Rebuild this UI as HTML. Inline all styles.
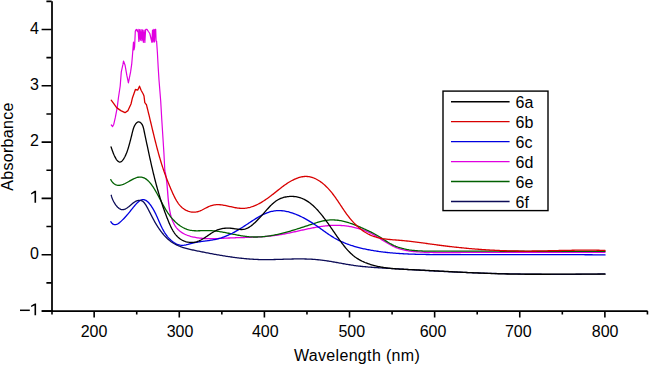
<!DOCTYPE html>
<html><head><meta charset="utf-8"><style>
html,body{margin:0;padding:0;background:#fff;width:650px;height:366px;overflow:hidden;}
svg{display:block;font-family:"Liberation Sans",sans-serif;}
</style></head><body>
<svg width="650" height="366" viewBox="0 0 650 366">
<rect width="650" height="366" fill="#fff"/>
<path d="M164.68 170.11 L164.91 171.07 L165.13 172.04 L165.34 173.01 L165.54 173.97 L165.72 174.94 L165.89 175.91 L166.05 176.88 L166.20 177.85 L166.34 178.82 L166.48 179.79 L166.60 180.77 L166.72 181.74 L166.83 182.72 L166.93 183.70 L167.03 184.68 L167.12 185.66 L167.21 186.65 L167.29 187.63 L167.37 188.62 L167.45 189.61 L167.53 190.60 L167.61 191.59 L167.69 192.58 L167.76 193.58 L167.84 194.58 L167.92 195.58 L168.01 196.58 L168.09 197.59 L168.18 198.60 L168.27 199.61 L168.37 200.62 L168.48 201.63 L168.59 202.65 L168.71 203.67 L168.83 204.70 L168.96 205.72 L169.11 206.75 L169.26 207.78 L169.42 208.81 L169.60 209.84 L169.79 210.86 L169.99 211.88 L170.20 212.90 L170.43 213.91 L170.67 214.91 L170.94 215.90 L171.21 216.88 L171.51 217.85 L171.83 218.80 L172.16 219.74 L172.52 220.67 L172.89 221.58 L173.29 222.47 L173.71 223.34 L174.16 224.19 L174.63 225.02 L175.13 225.82 L175.65 226.61 L176.20 227.36 L176.77 228.09 L177.38 228.79 L178.01 229.46 L178.68 230.10 L179.37 230.72 L180.09 231.30 L180.84 231.85 L181.61 232.38 L182.40 232.88 L183.22 233.35 L184.06 233.80 L184.92 234.22 L185.79 234.62 L186.69 235.00 L187.60 235.35 L188.53 235.68 L189.47 235.99 L190.42 236.28 L191.38 236.55 L192.36 236.79 L193.34 237.02 L194.33 237.23 L195.33 237.43 L196.33 237.61 L197.34 237.77 L198.35 237.91 L199.36 238.04 L200.37 238.16 L201.39 238.26 L202.40 238.35 L203.41 238.43 L204.42 238.49 L205.42 238.55 L206.43 238.59 L207.44 238.63 L208.45 238.65 L209.45 238.67 L210.46 238.67 L211.46 238.67 L212.47 238.67 L213.47 238.65 L214.48 238.63 L215.48 238.60 L216.48 238.57 L217.48 238.54 L218.49 238.50 L219.49 238.46 L220.49 238.41 L221.49 238.36 L222.49 238.32 L223.49 238.27 L224.49 238.22 L225.49 238.17 L226.49 238.12 L227.49 238.07 L228.49 238.02 L229.49 237.98 L230.49 237.94 L231.49 237.90 L232.48 237.86 L233.48 237.82 L234.48 237.79 L235.48 237.75 L236.48 237.72 L237.47 237.69 L238.47 237.66 L239.47 237.63 L240.47 237.60 L241.46 237.57 L242.46 237.54 L243.45 237.51 L244.45 237.49 L245.45 237.46 L246.44 237.42 L247.44 237.39 L248.43 237.36 L249.43 237.33 L250.42 237.29 L251.42 237.26 L252.41 237.22 L253.40 237.18 L254.40 237.13 L255.39 237.09 L256.38 237.04 L257.38 236.99 L258.37 236.94 L259.36 236.88 L260.35 236.83 L261.34 236.76 L262.33 236.70 L263.33 236.63 L264.32 236.55 L265.31 236.48 L266.30 236.39 L267.29 236.31 L268.28 236.22 L269.27 236.12 L270.25 236.02 L271.24 235.91 L272.23 235.80 L273.22 235.68 L274.21 235.56 L275.19 235.43 L276.18 235.30 L277.17 235.16 L278.15 235.01 L279.14 234.85 L280.12 234.69 L281.11 234.53 L282.09 234.35 L283.08 234.18 L284.06 233.99 L285.05 233.81 L286.03 233.62 L287.01 233.42 L288.00 233.22 L288.98 233.02 L289.96 232.81 L290.95 232.60 L291.93 232.39 L292.91 232.18 L293.89 231.97 L294.87 231.75 L295.86 231.53 L296.84 231.31 L297.82 231.09 L298.80 230.87 L299.78 230.65 L300.76 230.43 L301.75 230.21 L302.73 230.00 L303.71 229.78 L304.69 229.56 L305.67 229.35 L306.65 229.14 L307.63 228.93 L308.62 228.72 L309.60 228.52 L310.58 228.32 L311.56 228.13 L312.54 227.93 L313.52 227.75 L314.51 227.56 L315.49 227.38 L316.47 227.21 L317.45 227.04 L318.44 226.88 L319.42 226.73 L320.40 226.58 L321.39 226.44 L322.37 226.30 L323.35 226.17 L324.34 226.05 L325.32 225.94 L326.31 225.84 L327.29 225.74 L328.28 225.66 L329.26 225.58 L330.25 225.51 L331.23 225.45 L332.22 225.41 L333.21 225.37 L334.19 225.34 L335.18 225.33 L336.17 225.33 L337.16 225.33 L338.15 225.35 L339.14 225.39 L340.12 225.43 L341.11 225.48 L342.10 225.55 L343.09 225.63 L344.07 225.72 L345.06 225.82 L346.04 225.94 L347.03 226.07 L348.01 226.20 L348.99 226.36 L349.97 226.52 L350.94 226.69 L351.92 226.88 L352.89 227.08 L353.86 227.29 L354.83 227.52 L355.79 227.76 L356.76 228.01 L357.71 228.27 L358.67 228.54 L359.62 228.83 L360.57 229.13 L361.52 229.44 L362.46 229.77 L363.40 230.11 L364.33 230.46 L365.26 230.82 L366.18 231.20 L367.10 231.59 L368.02 231.99 L368.93 232.41 L369.83 232.84 L370.73 233.28 L371.63 233.73 L372.51 234.20 L373.40 234.68 L374.28 235.17 L375.15 235.67 L376.02 236.18 L376.89 236.70 L377.76 237.22 L378.62 237.75 L379.48 238.28 L380.34 238.81 L381.20 239.34 L382.05 239.88 L382.91 240.41 L383.77 240.94 L384.63 241.47 L385.49 242.00 L386.35 242.52 L387.21 243.03 L388.07 243.53 L388.94 244.03 L389.81 244.52 L390.68 244.99 L391.56 245.45 L392.44 245.90 L393.33 246.34 L394.22 246.75 L395.12 247.16 L396.03 247.54 L396.94 247.90 L397.86 248.25 L398.78 248.57 L399.72 248.88 L400.65 249.16 L401.60 249.43 L402.55 249.68 L403.50 249.92 L404.47 250.13 L405.43 250.34 L406.40 250.52 L407.38 250.70 L408.35 250.86 L409.34 251.01 L410.32 251.15 L411.31 251.27 L412.30 251.39 L413.29 251.49 L414.29 251.59 L415.28 251.68 L416.28 251.76 L417.28 251.84 L418.28 251.91 L419.28 251.97 L420.28 252.03 L421.28 252.09 L422.28 252.14 L423.28 252.19 L424.28 252.23 L425.28 252.27 L426.28 252.31 L427.28 252.35 L428.28 252.38 L429.28 252.41 L430.28 252.43 L431.28 252.45 L432.28 252.47 L433.28 252.49 L434.28 252.51 L435.28 252.52 L436.28 252.53 L437.28 252.54 L438.28 252.55 L439.28 252.55 L440.28 252.55 L441.27 252.56 L442.27 252.56 L443.27 252.56 L444.27 252.56 L445.27 252.55 L446.27 252.55 L447.27 252.55 L448.27 252.54 L449.27 252.54 L450.26 252.53 L451.26 252.52 L452.26 252.52 L453.26 252.51 L454.26 252.51 L455.26 252.50 L456.26 252.50 L457.26 252.49 L458.25 252.49 L459.25 252.48 L460.25 252.48 L461.25 252.47 L462.25 252.47 L463.25 252.47 L464.25 252.46 L465.24 252.46 L466.24 252.45 L467.24 252.45 L468.24 252.45 L469.24 252.44 L470.24 252.44 L471.24 252.44 L472.23 252.44 L473.23 252.43 L474.23 252.43 L475.23 252.43 L476.23 252.43 L477.23 252.42 L478.22 252.42 L479.22 252.42 L480.22 252.42 L481.22 252.42 L482.22 252.41 L483.22 252.41 L484.21 252.41 L485.21 252.41 L486.21 252.41 L487.21 252.41 L488.21 252.41 L489.21 252.41 L490.20 252.41 L491.20 252.40 L492.20 252.40 L493.20 252.40 L494.20 252.40 L495.19 252.40 L496.19 252.40 L497.19 252.40 L498.19 252.40 L499.19 252.40 L500.19 252.40 L501.18 252.40 L502.18 252.40 L503.18 252.40 L504.18 252.40 L505.18 252.40 L506.17 252.40 L507.17 252.40 L508.17 252.40 L509.17 252.40 L510.17 252.40 L511.16 252.40 L512.16 252.41 L513.16 252.41 L514.16 252.41 L515.16 252.41 L516.16 252.41 L517.15 252.41 L518.15 252.41 L519.15 252.41 L520.15 252.41 L521.15 252.41 L522.14 252.41 L523.14 252.41 L524.14 252.41 L525.14 252.41 L526.14 252.41 L527.13 252.41 L528.13 252.42 L529.13 252.42 L530.13 252.42 L531.13 252.42 L532.12 252.42 L533.12 252.42 L534.12 252.42 L535.12 252.42 L536.12 252.42 L537.11 252.42 L538.11 252.42 L539.11 252.42 L540.11 252.42 L541.11 252.42 L542.10 252.42 L543.10 252.42 L544.10 252.42 L545.10 252.42 L546.10 252.42 L547.10 252.42 L548.09 252.42 L549.09 252.42 L550.09 252.42 L551.09 252.42 L552.09 252.42 L553.08 252.42 L554.08 252.42 L555.08 252.42 L556.08 252.42 L557.08 252.42 L558.08 252.42 L559.07 252.42 L560.07 252.42 L561.07 252.41 L562.07 252.41 L563.07 252.41 L564.06 252.41 L565.06 252.41 L566.06 252.41 L567.06 252.41 L568.06 252.40 L569.06 252.40 L570.05 252.40 L571.05 252.40 L572.05 252.40 L573.05 252.39 L574.05 252.39 L575.05 252.39 L576.05 252.39 L577.04 252.38 L578.04 252.38 L579.04 252.38 L580.04 252.37 L581.04 252.37 L582.04 252.37 L583.03 252.36 L584.03 252.36 L585.03 252.35 L586.03 252.35 L587.03 252.35 L588.03 252.34 L589.03 252.34 L590.02 252.33 L591.02 252.33 L592.02 252.32 L593.02 252.32 L594.02 252.31 L595.02 252.30 L596.02 252.30 L597.02 252.29 L598.01 252.29 L599.01 252.28 L600.01 252.27 L601.01 252.27 L602.01 252.26 L603.01 252.25 L604.01 252.24 L605.01 252.24" fill="none" stroke="#e000e0" stroke-width="1.3" stroke-linejoin="round" stroke-linecap="round"/>
<path d="M111.30 125.00 L112.60 126.60 L113.80 124.20 L115.40 117.20 L117.20 107.60 L118.40 98.00 L120.20 86.00 L121.30 71.90 L123.00 64.20 L123.50 61.00 L125.10 65.30 L126.80 75.20 L128.40 82.90 L130.60 71.90 L131.70 64.20 L132.40 56.00 L133.50 42.00 L134.00 50.00 L134.60 47.00 L135.30 31.00 L136.30 29.40 L137.40 31.50 L138.10 29.40 L138.85 41.37 L139.60 29.63 L140.35 40.22 L141.10 29.51 L141.85 40.62 L142.60 29.95 L143.35 42.30 L144.10 30.16 L144.85 42.37 L145.60 30.05 L145.80 29.40 L147.00 29.40 L148.40 31.50 L149.80 33.50 L151.00 38.50 L151.90 42.40 L152.50 30.00 L153.10 42.00 L153.80 29.40 L154.50 42.00 L155.10 29.40 L155.70 29.40 L156.10 41.00 L156.60 41.30 L157.40 52.80 L158.20 67.50 L159.00 80.00 L160.70 101.00 L161.80 120.00 L163.90 152.80 L164.80 170.00" fill="none" stroke="#e000e0" stroke-width="1.2" stroke-linejoin="round" stroke-linecap="round"/>
<path d="M110.78 179.62 L111.49 180.81 L112.22 181.85 L112.97 182.73 L113.75 183.47 L114.54 184.07 L115.35 184.55 L116.18 184.90 L117.02 185.14 L117.88 185.27 L118.75 185.31 L119.63 185.25 L120.53 185.12 L121.43 184.90 L122.34 184.63 L123.26 184.29 L124.19 183.90 L125.12 183.47 L126.06 183.00 L126.99 182.51 L127.93 181.99 L128.88 181.47 L129.82 180.94 L130.76 180.41 L131.69 179.89 L132.62 179.40 L133.55 178.92 L134.47 178.49 L135.39 178.10 L136.29 177.75 L137.19 177.47 L138.07 177.25 L138.94 177.10 L139.80 177.04 L140.65 177.05 L141.48 177.14 L142.30 177.31 L143.10 177.54 L143.89 177.84 L144.66 178.21 L145.42 178.64 L146.16 179.13 L146.88 179.67 L147.59 180.27 L148.28 180.91 L148.96 181.60 L149.61 182.33 L150.26 183.09 L150.89 183.87 L151.50 184.68 L152.10 185.51 L152.69 186.36 L153.27 187.23 L153.83 188.11 L154.39 189.00 L154.93 189.90 L155.47 190.81 L155.99 191.72 L156.51 192.63 L157.01 193.55 L157.52 194.46 L158.01 195.37 L158.50 196.28 L158.98 197.19 L159.46 198.10 L159.94 199.00 L160.41 199.90 L160.89 200.79 L161.36 201.69 L161.83 202.57 L162.30 203.46 L162.78 204.34 L163.26 205.21 L163.74 206.08 L164.22 206.95 L164.72 207.81 L165.21 208.66 L165.72 209.51 L166.23 210.35 L166.75 211.18 L167.28 212.01 L167.82 212.83 L168.38 213.64 L168.94 214.44 L169.52 215.24 L170.11 216.02 L170.71 216.80 L171.33 217.57 L171.97 218.33 L172.62 219.07 L173.29 219.81 L173.98 220.53 L174.68 221.24 L175.40 221.94 L176.13 222.61 L176.88 223.27 L177.64 223.91 L178.42 224.53 L179.21 225.13 L180.02 225.70 L180.84 226.25 L181.67 226.77 L182.52 227.27 L183.38 227.73 L184.26 228.17 L185.15 228.58 L186.05 228.95 L186.96 229.30 L187.89 229.60 L188.83 229.87 L189.78 230.11 L190.74 230.30 L191.72 230.46 L192.70 230.58 L193.69 230.67 L194.70 230.73 L195.71 230.77 L196.72 230.78 L197.74 230.78 L198.77 230.76 L199.79 230.73 L200.82 230.70 L201.85 230.66 L202.88 230.62 L203.90 230.59 L204.92 230.55 L205.94 230.53 L206.95 230.53 L207.96 230.54 L208.96 230.56 L209.96 230.60 L210.95 230.65 L211.94 230.71 L212.92 230.79 L213.91 230.88 L214.88 230.98 L215.86 231.09 L216.83 231.21 L217.81 231.34 L218.78 231.48 L219.75 231.63 L220.72 231.79 L221.70 231.95 L222.67 232.12 L223.65 232.30 L224.62 232.48 L225.60 232.67 L226.58 232.86 L227.56 233.06 L228.55 233.26 L229.53 233.46 L230.52 233.66 L231.51 233.87 L232.50 234.07 L233.49 234.27 L234.48 234.47 L235.47 234.67 L236.47 234.87 L237.46 235.06 L238.46 235.24 L239.45 235.43 L240.45 235.60 L241.44 235.77 L242.44 235.93 L243.43 236.08 L244.43 236.23 L245.43 236.36 L246.42 236.48 L247.42 236.59 L248.41 236.69 L249.40 236.78 L250.40 236.85 L251.39 236.91 L252.38 236.96 L253.37 236.99 L254.36 237.01 L255.35 237.02 L256.34 237.02 L257.33 237.00 L258.31 236.97 L259.30 236.93 L260.28 236.88 L261.27 236.82 L262.25 236.75 L263.24 236.67 L264.22 236.57 L265.20 236.47 L266.18 236.36 L267.16 236.23 L268.14 236.10 L269.12 235.96 L270.10 235.81 L271.08 235.65 L272.06 235.48 L273.03 235.31 L274.01 235.12 L274.98 234.93 L275.96 234.73 L276.93 234.53 L277.91 234.32 L278.88 234.10 L279.85 233.87 L280.82 233.64 L281.79 233.40 L282.76 233.15 L283.73 232.90 L284.70 232.65 L285.67 232.39 L286.64 232.12 L287.61 231.85 L288.57 231.58 L289.54 231.30 L290.51 231.01 L291.47 230.73 L292.44 230.44 L293.40 230.14 L294.36 229.85 L295.33 229.55 L296.29 229.25 L297.25 228.94 L298.21 228.64 L299.17 228.33 L300.13 228.02 L301.09 227.71 L302.05 227.40 L303.01 227.08 L303.97 226.77 L304.92 226.46 L305.88 226.14 L306.84 225.83 L307.79 225.52 L308.75 225.20 L309.70 224.89 L310.66 224.58 L311.61 224.27 L312.56 223.96 L313.52 223.65 L314.47 223.35 L315.42 223.05 L316.38 222.75 L317.33 222.47 L318.28 222.19 L319.24 221.92 L320.19 221.66 L321.15 221.41 L322.11 221.18 L323.07 220.96 L324.03 220.76 L325.00 220.57 L325.96 220.41 L326.93 220.27 L327.91 220.14 L328.88 220.05 L329.86 219.97 L330.85 219.92 L331.84 219.90 L332.83 219.90 L333.82 219.93 L334.81 219.98 L335.81 220.05 L336.80 220.15 L337.79 220.26 L338.79 220.40 L339.78 220.56 L340.77 220.73 L341.76 220.92 L342.74 221.13 L343.72 221.35 L344.69 221.59 L345.67 221.85 L346.63 222.11 L347.59 222.40 L348.55 222.69 L349.51 223.00 L350.46 223.31 L351.40 223.64 L352.35 223.98 L353.29 224.33 L354.22 224.68 L355.16 225.05 L356.09 225.42 L357.01 225.80 L357.94 226.19 L358.86 226.58 L359.78 226.97 L360.70 227.37 L361.62 227.78 L362.53 228.18 L363.45 228.59 L364.36 229.00 L365.27 229.41 L366.18 229.82 L367.08 230.24 L367.99 230.66 L368.89 231.08 L369.79 231.51 L370.68 231.94 L371.58 232.38 L372.47 232.82 L373.35 233.28 L374.23 233.74 L375.11 234.22 L375.98 234.70 L376.84 235.20 L377.70 235.71 L378.56 236.23 L379.41 236.76 L380.26 237.29 L381.10 237.84 L381.94 238.39 L382.79 238.94 L383.63 239.49 L384.47 240.04 L385.31 240.58 L386.16 241.13 L387.01 241.66 L387.86 242.19 L388.72 242.71 L389.58 243.21 L390.45 243.70 L391.33 244.18 L392.21 244.64 L393.10 245.07 L394.00 245.49 L394.91 245.89 L395.83 246.28 L396.75 246.64 L397.68 246.99 L398.61 247.31 L399.56 247.62 L400.50 247.92 L401.46 248.20 L402.41 248.46 L403.37 248.70 L404.34 248.94 L405.31 249.15 L406.28 249.35 L407.25 249.54 L408.23 249.71 L409.21 249.88 L410.19 250.02 L411.17 250.16 L412.15 250.28 L413.14 250.40 L414.13 250.50 L415.11 250.59 L416.10 250.67 L417.10 250.75 L418.09 250.81 L419.08 250.87 L420.08 250.92 L421.08 250.96 L422.07 251.00 L423.07 251.03 L424.07 251.05 L425.07 251.07 L426.07 251.09 L427.07 251.10 L428.07 251.11 L429.07 251.12 L430.08 251.12 L431.08 251.12 L432.08 251.12 L433.08 251.13 L434.08 251.13 L435.09 251.13 L436.09 251.13 L437.09 251.13 L438.09 251.13 L439.09 251.13 L440.10 251.13 L441.10 251.13 L442.10 251.13 L443.10 251.13 L444.10 251.13 L445.10 251.14 L446.10 251.14 L447.11 251.14 L448.11 251.14 L449.11 251.14 L450.11 251.14 L451.11 251.14 L452.11 251.14 L453.11 251.14 L454.11 251.15 L455.11 251.15 L456.11 251.15 L457.11 251.15 L458.12 251.15 L459.12 251.15 L460.12 251.15 L461.12 251.16 L462.12 251.16 L463.12 251.16 L464.12 251.16 L465.12 251.16 L466.12 251.16 L467.12 251.16 L468.12 251.17 L469.12 251.17 L470.12 251.17 L471.12 251.17 L472.12 251.17 L473.12 251.17 L474.12 251.18 L475.12 251.18 L476.12 251.18 L477.11 251.18 L478.11 251.18 L479.11 251.18 L480.11 251.19 L481.11 251.19 L482.11 251.19 L483.11 251.19 L484.11 251.19 L485.11 251.20 L486.11 251.20 L487.11 251.20 L488.11 251.20 L489.11 251.20 L490.11 251.21 L491.10 251.21 L492.10 251.21 L493.10 251.21 L494.10 251.21 L495.10 251.22 L496.10 251.22 L497.10 251.22 L498.10 251.22 L499.10 251.22 L500.10 251.23 L501.09 251.23 L502.09 251.23 L503.09 251.23 L504.09 251.23 L505.09 251.24 L506.09 251.24 L507.09 251.24 L508.09 251.24 L509.08 251.24 L510.08 251.25 L511.08 251.25 L512.08 251.25 L513.08 251.25 L514.08 251.25 L515.08 251.26 L516.07 251.26 L517.07 251.26 L518.07 251.26 L519.07 251.26 L520.07 251.27 L521.07 251.27 L522.07 251.27 L523.06 251.27 L524.06 251.27 L525.06 251.28 L526.06 251.28 L527.06 251.28 L528.06 251.28 L529.06 251.28 L530.05 251.29 L531.05 251.29 L532.05 251.29 L533.05 251.29 L534.05 251.29 L535.05 251.30 L536.05 251.30 L537.04 251.30 L538.04 251.30 L539.04 251.30 L540.04 251.30 L541.04 251.31 L542.04 251.31 L543.04 251.31 L544.03 251.31 L545.03 251.31 L546.03 251.32 L547.03 251.32 L548.03 251.32 L549.03 251.32 L550.03 251.32 L551.03 251.32 L552.03 251.33 L553.02 251.33 L554.02 251.33 L555.02 251.33 L556.02 251.33 L557.02 251.33 L558.02 251.34 L559.02 251.34 L560.02 251.34 L561.02 251.34 L562.02 251.34 L563.01 251.34 L564.01 251.35 L565.01 251.35 L566.01 251.35 L567.01 251.35 L568.01 251.35 L569.01 251.35 L570.01 251.35 L571.01 251.36 L572.01 251.36 L573.01 251.36 L574.01 251.36 L575.01 251.36 L576.01 251.36 L577.01 251.36 L578.01 251.36 L579.01 251.37 L580.01 251.37 L581.01 251.37 L582.01 251.37 L583.01 251.37 L584.01 251.37 L585.01 251.37 L586.01 251.37 L587.01 251.37 L588.01 251.37 L589.01 251.37 L590.01 251.38 L591.01 251.38 L592.01 251.38 L593.01 251.38 L594.01 251.38 L595.01 251.38 L596.01 251.38 L597.01 251.38 L598.02 251.38 L599.02 251.38 L600.02 251.38 L601.02 251.38 L602.02 251.38 L603.02 251.38 L604.02 251.38 L605.02 251.38" fill="none" stroke="#006000" stroke-width="1.3" stroke-linejoin="round" stroke-linecap="round"/>
<path d="M110.82 221.73 L111.56 222.79 L112.33 223.60 L113.12 224.17 L113.93 224.52 L114.74 224.67 L115.57 224.65 L116.40 224.46 L117.23 224.14 L118.05 223.70 L118.88 223.16 L119.69 222.54 L120.49 221.86 L121.27 221.14 L122.04 220.40 L122.78 219.66 L123.49 218.93 L124.19 218.20 L124.87 217.47 L125.53 216.74 L126.18 216.02 L126.81 215.29 L127.44 214.56 L128.07 213.82 L128.69 213.07 L129.31 212.31 L129.94 211.54 L130.57 210.75 L131.21 209.95 L131.87 209.13 L132.54 208.29 L133.22 207.44 L133.91 206.58 L134.62 205.73 L135.33 204.90 L136.06 204.09 L136.80 203.32 L137.54 202.59 L138.29 201.92 L139.04 201.31 L139.80 200.78 L140.55 200.34 L141.31 199.99 L142.07 199.75 L142.83 199.63 L143.59 199.63 L144.34 199.76 L145.09 200.01 L145.83 200.38 L146.56 200.86 L147.28 201.42 L147.99 202.06 L148.69 202.78 L149.37 203.55 L150.03 204.38 L150.67 205.24 L151.29 206.13 L151.89 207.04 L152.46 207.95 L153.01 208.87 L153.54 209.77 L154.04 210.68 L154.53 211.59 L155.00 212.50 L155.45 213.41 L155.89 214.33 L156.32 215.25 L156.75 216.16 L157.16 217.08 L157.57 218.00 L157.97 218.92 L158.36 219.83 L158.76 220.75 L159.16 221.66 L159.55 222.57 L159.95 223.47 L160.35 224.37 L160.76 225.27 L161.18 226.17 L161.60 227.05 L162.04 227.93 L162.48 228.81 L162.94 229.68 L163.42 230.54 L163.91 231.39 L164.41 232.23 L164.94 233.06 L165.49 233.89 L166.06 234.70 L166.65 235.51 L167.27 236.30 L167.92 237.08 L168.59 237.84 L169.30 238.59 L170.03 239.33 L170.78 240.04 L171.56 240.72 L172.36 241.37 L173.18 241.99 L174.02 242.57 L174.88 243.11 L175.76 243.59 L176.64 244.03 L177.55 244.41 L178.46 244.73 L179.38 244.99 L180.31 245.18 L181.24 245.29 L182.18 245.34 L183.13 245.31 L184.08 245.22 L185.03 245.08 L185.99 244.89 L186.95 244.67 L187.92 244.43 L188.89 244.16 L189.87 243.89 L190.85 243.62 L191.83 243.35 L192.82 243.10 L193.82 242.87 L194.82 242.65 L195.82 242.45 L196.82 242.26 L197.83 242.09 L198.84 241.92 L199.85 241.76 L200.86 241.61 L201.87 241.47 L202.88 241.33 L203.89 241.19 L204.90 241.06 L205.91 240.93 L206.92 240.79 L207.92 240.66 L208.92 240.52 L209.92 240.37 L210.92 240.22 L211.91 240.06 L212.89 239.89 L213.87 239.72 L214.85 239.53 L215.81 239.32 L216.78 239.10 L217.73 238.87 L218.68 238.62 L219.62 238.36 L220.56 238.08 L221.48 237.78 L222.41 237.47 L223.32 237.15 L224.23 236.81 L225.14 236.46 L226.04 236.10 L226.94 235.72 L227.83 235.33 L228.72 234.93 L229.60 234.52 L230.48 234.10 L231.35 233.67 L232.23 233.23 L233.10 232.77 L233.96 232.31 L234.83 231.84 L235.69 231.36 L236.55 230.87 L237.40 230.37 L238.26 229.87 L239.11 229.36 L239.96 228.84 L240.82 228.31 L241.67 227.78 L242.52 227.24 L243.37 226.70 L244.22 226.15 L245.07 225.60 L245.92 225.05 L246.77 224.48 L247.62 223.92 L248.48 223.36 L249.33 222.79 L250.19 222.22 L251.04 221.66 L251.90 221.10 L252.76 220.54 L253.62 219.99 L254.49 219.44 L255.35 218.89 L256.22 218.36 L257.09 217.83 L257.97 217.32 L258.84 216.81 L259.72 216.32 L260.60 215.84 L261.49 215.37 L262.38 214.92 L263.27 214.49 L264.16 214.07 L265.06 213.67 L265.97 213.29 L266.87 212.93 L267.78 212.59 L268.70 212.28 L269.62 211.98 L270.54 211.72 L271.47 211.47 L272.41 211.26 L273.34 211.07 L274.29 210.91 L275.24 210.78 L276.19 210.69 L277.15 210.62 L278.12 210.58 L279.08 210.58 L280.06 210.60 L281.03 210.66 L282.01 210.74 L282.99 210.84 L283.98 210.97 L284.96 211.13 L285.95 211.31 L286.93 211.52 L287.92 211.74 L288.90 211.99 L289.89 212.26 L290.87 212.54 L291.85 212.85 L292.82 213.18 L293.79 213.52 L294.76 213.87 L295.73 214.25 L296.68 214.63 L297.64 215.03 L298.58 215.45 L299.52 215.87 L300.46 216.31 L301.38 216.75 L302.30 217.21 L303.21 217.67 L304.11 218.14 L305.00 218.62 L305.88 219.11 L306.75 219.59 L307.60 220.09 L308.45 220.58 L309.29 221.09 L310.12 221.59 L310.95 222.10 L311.76 222.62 L312.58 223.14 L313.38 223.67 L314.19 224.20 L314.99 224.74 L315.79 225.28 L316.58 225.82 L317.38 226.38 L318.18 226.93 L318.98 227.50 L319.78 228.07 L320.58 228.64 L321.39 229.22 L322.20 229.80 L323.01 230.38 L323.82 230.97 L324.64 231.55 L325.46 232.14 L326.29 232.72 L327.12 233.30 L327.95 233.87 L328.79 234.44 L329.63 235.01 L330.48 235.56 L331.33 236.11 L332.18 236.65 L333.05 237.18 L333.91 237.70 L334.78 238.20 L335.66 238.70 L336.54 239.18 L337.42 239.65 L338.31 240.10 L339.21 240.55 L340.11 240.98 L341.01 241.41 L341.92 241.82 L342.83 242.22 L343.75 242.61 L344.67 242.99 L345.59 243.36 L346.52 243.73 L347.45 244.08 L348.38 244.42 L349.32 244.75 L350.26 245.07 L351.20 245.39 L352.15 245.69 L353.10 245.99 L354.05 246.28 L355.00 246.56 L355.96 246.83 L356.92 247.10 L357.88 247.36 L358.85 247.61 L359.81 247.85 L360.78 248.09 L361.75 248.32 L362.72 248.54 L363.69 248.76 L364.67 248.97 L365.64 249.17 L366.62 249.37 L367.60 249.57 L368.58 249.75 L369.56 249.94 L370.54 250.12 L371.52 250.29 L372.50 250.46 L373.48 250.63 L374.46 250.79 L375.45 250.94 L376.43 251.09 L377.42 251.24 L378.40 251.38 L379.39 251.52 L380.37 251.66 L381.36 251.79 L382.35 251.91 L383.34 252.03 L384.32 252.15 L385.31 252.27 L386.30 252.38 L387.29 252.49 L388.28 252.59 L389.27 252.69 L390.27 252.79 L391.26 252.88 L392.25 252.97 L393.24 253.05 L394.24 253.14 L395.23 253.22 L396.22 253.29 L397.22 253.37 L398.21 253.44 L399.21 253.51 L400.20 253.57 L401.20 253.64 L402.19 253.70 L403.19 253.75 L404.19 253.81 L405.18 253.86 L406.18 253.91 L407.18 253.96 L408.18 254.00 L409.17 254.04 L410.17 254.08 L411.17 254.12 L412.17 254.16 L413.17 254.19 L414.17 254.22 L415.17 254.26 L416.17 254.28 L417.17 254.31 L418.17 254.34 L419.17 254.36 L420.17 254.38 L421.17 254.40 L422.17 254.42 L423.17 254.44 L424.17 254.46 L425.17 254.47 L426.17 254.49 L427.17 254.50 L428.17 254.51 L429.17 254.52 L430.17 254.53 L431.17 254.54 L432.18 254.55 L433.18 254.56 L434.18 254.57 L435.18 254.57 L436.18 254.58 L437.18 254.59 L438.18 254.59 L439.18 254.60 L440.18 254.60 L441.18 254.61 L442.19 254.61 L443.19 254.62 L444.19 254.62 L445.19 254.63 L446.19 254.63 L447.19 254.63 L448.19 254.64 L449.19 254.64 L450.19 254.64 L451.19 254.65 L452.19 254.65 L453.19 254.65 L454.19 254.66 L455.19 254.66 L456.19 254.66 L457.19 254.66 L458.19 254.67 L459.19 254.67 L460.19 254.67 L461.19 254.67 L462.19 254.68 L463.19 254.68 L464.19 254.68 L465.18 254.68 L466.18 254.68 L467.18 254.68 L468.18 254.68 L469.18 254.68 L470.18 254.69 L471.18 254.69 L472.18 254.69 L473.18 254.69 L474.18 254.69 L475.17 254.69 L476.17 254.69 L477.17 254.69 L478.17 254.69 L479.17 254.69 L480.17 254.69 L481.17 254.69 L482.17 254.69 L483.16 254.69 L484.16 254.69 L485.16 254.69 L486.16 254.69 L487.16 254.69 L488.16 254.69 L489.16 254.68 L490.15 254.68 L491.15 254.68 L492.15 254.68 L493.15 254.68 L494.15 254.68 L495.15 254.68 L496.14 254.68 L497.14 254.68 L498.14 254.68 L499.14 254.68 L500.14 254.67 L501.13 254.67 L502.13 254.67 L503.13 254.67 L504.13 254.67 L505.13 254.67 L506.12 254.67 L507.12 254.67 L508.12 254.66 L509.12 254.66 L510.12 254.66 L511.11 254.66 L512.11 254.66 L513.11 254.66 L514.11 254.66 L515.11 254.66 L516.10 254.65 L517.10 254.65 L518.10 254.65 L519.10 254.65 L520.10 254.65 L521.09 254.65 L522.09 254.65 L523.09 254.65 L524.09 254.64 L525.09 254.64 L526.08 254.64 L527.08 254.64 L528.08 254.64 L529.08 254.64 L530.08 254.64 L531.08 254.64 L532.07 254.64 L533.07 254.64 L534.07 254.63 L535.07 254.63 L536.07 254.63 L537.06 254.63 L538.06 254.63 L539.06 254.63 L540.06 254.63 L541.06 254.63 L542.05 254.63 L543.05 254.63 L544.05 254.63 L545.05 254.63 L546.05 254.63 L547.05 254.63 L548.05 254.63 L549.04 254.63 L550.04 254.63 L551.04 254.63 L552.04 254.63 L553.04 254.63 L554.04 254.64 L555.03 254.64 L556.03 254.64 L557.03 254.64 L558.03 254.64 L559.03 254.64 L560.03 254.64 L561.03 254.64 L562.03 254.65 L563.03 254.65 L564.02 254.65 L565.02 254.65 L566.02 254.65 L567.02 254.66 L568.02 254.66 L569.02 254.66 L570.02 254.67 L571.02 254.67 L572.02 254.67 L573.02 254.67 L574.02 254.68 L575.02 254.68 L576.02 254.69 L577.02 254.69 L578.02 254.69 L579.02 254.70 L580.01 254.70 L581.01 254.71 L582.01 254.71 L583.01 254.72 L584.01 254.72 L585.01 254.73 L586.02 254.73 L587.02 254.74 L588.02 254.74 L589.02 254.75 L590.02 254.76 L591.02 254.76 L592.02 254.77 L593.02 254.78 L594.02 254.78 L595.02 254.79 L596.02 254.80 L597.02 254.81 L598.02 254.81 L599.02 254.82 L600.02 254.83 L601.03 254.84 L602.03 254.85 L603.03 254.86 L604.03 254.86 L605.03 254.87" fill="none" stroke="#0000e0" stroke-width="1.3" stroke-linejoin="round" stroke-linecap="round"/>
<path d="M111.20 100.20 L113.60 103.40 L116.60 107.60 L120.80 110.60 L125.00 112.70 L128.00 110.60 L131.00 104.00 L132.50 97.70 L134.10 93.20 L135.40 89.50 L137.80 90.10 L139.50 86.20 L141.10 90.30 L143.20 94.00 L144.00 96.00 L144.80 102.60 L146.40 104.60" fill="none" stroke="#d80000" stroke-width="1.3" stroke-linejoin="round" stroke-linecap="round"/>
<path d="M146.41 104.65 L146.66 105.61 L146.90 106.56 L147.14 107.52 L147.38 108.48 L147.62 109.44 L147.86 110.40 L148.09 111.36 L148.33 112.33 L148.56 113.29 L148.80 114.25 L149.03 115.22 L149.27 116.19 L149.50 117.16 L149.73 118.13 L149.96 119.10 L150.19 120.07 L150.43 121.04 L150.66 122.01 L150.89 122.98 L151.12 123.95 L151.35 124.93 L151.58 125.90 L151.82 126.88 L152.05 127.85 L152.28 128.83 L152.51 129.80 L152.75 130.77 L152.98 131.75 L153.22 132.73 L153.45 133.70 L153.69 134.68 L153.93 135.65 L154.16 136.63 L154.40 137.60 L154.64 138.57 L154.88 139.55 L155.13 140.52 L155.37 141.49 L155.62 142.47 L155.86 143.44 L156.11 144.41 L156.36 145.38 L156.61 146.35 L156.86 147.32 L157.12 148.29 L157.38 149.26 L157.63 150.22 L157.90 151.19 L158.16 152.15 L158.42 153.12 L158.69 154.08 L158.96 155.04 L159.23 156.00 L159.50 156.96 L159.78 157.92 L160.06 158.88 L160.34 159.83 L160.63 160.78 L160.91 161.74 L161.20 162.69 L161.50 163.63 L161.79 164.58 L162.09 165.53 L162.39 166.47 L162.70 167.41 L163.01 168.35 L163.32 169.29 L163.64 170.22 L163.95 171.16 L164.28 172.09 L164.60 173.02 L164.93 173.94 L165.27 174.87 L165.60 175.79 L165.94 176.71 L166.29 177.63 L166.64 178.55 L166.99 179.47 L167.35 180.39 L167.71 181.31 L168.07 182.23 L168.44 183.15 L168.82 184.07 L169.20 185.00 L169.58 185.92 L169.97 186.85 L170.36 187.78 L170.76 188.71 L171.16 189.64 L171.57 190.58 L171.98 191.52 L172.39 192.47 L172.82 193.41 L173.25 194.36 L173.69 195.30 L174.14 196.23 L174.60 197.16 L175.07 198.08 L175.56 198.99 L176.06 199.88 L176.58 200.76 L177.12 201.62 L177.67 202.47 L178.25 203.29 L178.84 204.08 L179.46 204.86 L180.10 205.60 L180.76 206.31 L181.45 207.00 L182.17 207.64 L182.92 208.26 L183.69 208.83 L184.49 209.37 L185.32 209.86 L186.17 210.31 L187.05 210.72 L187.94 211.08 L188.85 211.39 L189.77 211.65 L190.70 211.86 L191.65 212.02 L192.60 212.13 L193.55 212.17 L194.51 212.16 L195.47 212.09 L196.43 211.96 L197.39 211.76 L198.34 211.50 L199.28 211.18 L200.22 210.82 L201.16 210.41 L202.09 209.97 L203.02 209.50 L203.95 209.02 L204.87 208.52 L205.80 208.03 L206.73 207.55 L207.66 207.08 L208.59 206.64 L209.52 206.23 L210.46 205.86 L211.40 205.54 L212.35 205.28 L213.30 205.07 L214.25 204.90 L215.21 204.78 L216.18 204.70 L217.14 204.66 L218.11 204.66 L219.09 204.70 L220.06 204.76 L221.04 204.85 L222.02 204.97 L223.00 205.11 L223.98 205.28 L224.97 205.46 L225.95 205.65 L226.94 205.85 L227.93 206.07 L228.91 206.29 L229.90 206.51 L230.89 206.73 L231.87 206.95 L232.86 207.16 L233.84 207.37 L234.82 207.57 L235.80 207.75 L236.78 207.91 L237.76 208.05 L238.73 208.18 L239.70 208.27 L240.67 208.34 L241.64 208.38 L242.60 208.38 L243.56 208.35 L244.51 208.29 L245.46 208.19 L246.40 208.07 L247.35 207.91 L248.28 207.72 L249.22 207.51 L250.15 207.27 L251.07 207.00 L251.99 206.71 L252.91 206.39 L253.82 206.05 L254.73 205.69 L255.63 205.30 L256.53 204.90 L257.42 204.47 L258.31 204.03 L259.19 203.56 L260.07 203.08 L260.95 202.59 L261.82 202.08 L262.68 201.55 L263.54 201.01 L264.39 200.46 L265.24 199.90 L266.08 199.33 L266.92 198.75 L267.75 198.16 L268.58 197.56 L269.40 196.96 L270.22 196.35 L271.03 195.73 L271.83 195.11 L272.63 194.49 L273.42 193.87 L274.21 193.24 L274.99 192.62 L275.77 191.99 L276.55 191.37 L277.32 190.74 L278.10 190.12 L278.87 189.50 L279.65 188.89 L280.43 188.28 L281.21 187.67 L282.00 187.07 L282.79 186.47 L283.58 185.89 L284.38 185.31 L285.19 184.73 L286.00 184.17 L286.83 183.61 L287.66 183.07 L288.50 182.53 L289.36 182.01 L290.23 181.50 L291.10 181.00 L292.00 180.52 L292.90 180.05 L293.81 179.61 L294.74 179.18 L295.67 178.78 L296.61 178.40 L297.56 178.04 L298.51 177.72 L299.46 177.43 L300.43 177.17 L301.39 176.95 L302.35 176.76 L303.32 176.62 L304.28 176.51 L305.25 176.45 L306.21 176.44 L307.17 176.48 L308.12 176.56 L309.07 176.69 L310.02 176.87 L310.96 177.09 L311.89 177.35 L312.81 177.65 L313.73 177.99 L314.64 178.37 L315.54 178.78 L316.43 179.22 L317.31 179.70 L318.17 180.20 L319.03 180.73 L319.87 181.28 L320.71 181.86 L321.52 182.46 L322.33 183.08 L323.12 183.72 L323.89 184.38 L324.66 185.05 L325.41 185.74 L326.14 186.45 L326.87 187.16 L327.58 187.89 L328.27 188.63 L328.95 189.37 L329.62 190.13 L330.28 190.89 L330.92 191.65 L331.56 192.42 L332.18 193.20 L332.79 193.99 L333.39 194.77 L333.98 195.57 L334.57 196.36 L335.15 197.17 L335.72 197.97 L336.28 198.78 L336.84 199.59 L337.40 200.40 L337.95 201.22 L338.50 202.04 L339.04 202.86 L339.59 203.68 L340.13 204.50 L340.67 205.32 L341.22 206.15 L341.76 206.97 L342.31 207.79 L342.86 208.61 L343.41 209.43 L343.96 210.25 L344.53 211.07 L345.09 211.88 L345.66 212.70 L346.24 213.51 L346.83 214.32 L347.43 215.12 L348.03 215.92 L348.64 216.72 L349.27 217.51 L349.90 218.29 L350.55 219.08 L351.20 219.85 L351.87 220.62 L352.55 221.38 L353.23 222.13 L353.93 222.87 L354.64 223.61 L355.35 224.33 L356.08 225.05 L356.81 225.75 L357.56 226.44 L358.31 227.11 L359.08 227.78 L359.85 228.42 L360.64 229.06 L361.43 229.68 L362.23 230.28 L363.04 230.87 L363.86 231.44 L364.69 231.99 L365.53 232.52 L366.38 233.03 L367.23 233.52 L368.10 234.00 L368.97 234.45 L369.85 234.87 L370.74 235.28 L371.64 235.66 L372.55 236.02 L373.46 236.36 L374.38 236.67 L375.31 236.97 L376.25 237.24 L377.19 237.50 L378.14 237.74 L379.10 237.96 L380.06 238.16 L381.02 238.35 L381.99 238.52 L382.97 238.69 L383.95 238.83 L384.93 238.97 L385.92 239.10 L386.91 239.22 L387.91 239.33 L388.90 239.43 L389.90 239.52 L390.90 239.61 L391.91 239.70 L392.91 239.78 L393.92 239.86 L394.92 239.93 L395.93 240.01 L396.93 240.08 L397.94 240.16 L398.95 240.24 L399.95 240.32 L400.96 240.40 L401.96 240.49 L402.96 240.58 L403.96 240.68 L404.96 240.78 L405.96 240.88 L406.96 240.98 L407.95 241.09 L408.95 241.20 L409.94 241.31 L410.94 241.43 L411.93 241.55 L412.92 241.66 L413.92 241.79 L414.91 241.91 L415.90 242.04 L416.89 242.16 L417.88 242.29 L418.87 242.42 L419.86 242.55 L420.84 242.69 L421.83 242.82 L422.82 242.95 L423.81 243.09 L424.79 243.22 L425.78 243.36 L426.77 243.50 L427.75 243.63 L428.74 243.77 L429.72 243.91 L430.71 244.05 L431.70 244.18 L432.68 244.32 L433.67 244.46 L434.65 244.59 L435.64 244.72 L436.63 244.86 L437.61 244.99 L438.60 245.12 L439.59 245.25 L440.57 245.38 L441.56 245.51 L442.55 245.63 L443.54 245.76 L444.53 245.88 L445.51 246.00 L446.50 246.13 L447.49 246.24 L448.48 246.36 L449.47 246.48 L450.46 246.60 L451.45 246.71 L452.44 246.82 L453.43 246.93 L454.42 247.04 L455.42 247.15 L456.41 247.26 L457.40 247.37 L458.39 247.47 L459.38 247.57 L460.37 247.67 L461.37 247.77 L462.36 247.87 L463.35 247.97 L464.34 248.07 L465.34 248.16 L466.33 248.26 L467.32 248.35 L468.32 248.44 L469.31 248.53 L470.31 248.61 L471.30 248.70 L472.29 248.78 L473.29 248.87 L474.28 248.95 L475.28 249.03 L476.27 249.11 L477.27 249.19 L478.26 249.26 L479.26 249.34 L480.26 249.41 L481.25 249.48 L482.25 249.55 L483.24 249.62 L484.24 249.68 L485.23 249.75 L486.23 249.81 L487.23 249.88 L488.22 249.94 L489.22 249.99 L490.22 250.05 L491.21 250.11 L492.21 250.16 L493.21 250.22 L494.21 250.27 L495.20 250.32 L496.20 250.36 L497.20 250.41 L498.19 250.46 L499.19 250.50 L500.19 250.54 L501.19 250.58 L502.18 250.62 L503.18 250.66 L504.18 250.69 L505.18 250.73 L506.18 250.76 L507.17 250.79 L508.17 250.82 L509.17 250.84 L510.17 250.87 L511.17 250.89 L512.16 250.92 L513.16 250.94 L514.16 250.96 L515.16 250.97 L516.16 250.99 L517.15 251.00 L518.15 251.01 L519.15 251.03 L520.15 251.03 L521.15 251.04 L522.14 251.05 L523.14 251.05 L524.14 251.05 L525.14 251.05 L526.14 251.05 L527.13 251.05 L528.13 251.05 L529.13 251.04 L530.13 251.04 L531.13 251.03 L532.13 251.02 L533.12 251.01 L534.12 251.00 L535.12 250.99 L536.12 250.98 L537.12 250.96 L538.11 250.95 L539.11 250.93 L540.11 250.92 L541.11 250.90 L542.11 250.88 L543.10 250.86 L544.10 250.85 L545.10 250.83 L546.10 250.81 L547.10 250.79 L548.09 250.77 L549.09 250.74 L550.09 250.72 L551.09 250.70 L552.09 250.68 L553.08 250.66 L554.08 250.64 L555.08 250.61 L556.08 250.59 L557.08 250.57 L558.07 250.55 L559.07 250.52 L560.07 250.50 L561.07 250.48 L562.07 250.46 L563.07 250.44 L564.06 250.42 L565.06 250.40 L566.06 250.38 L567.06 250.36 L568.06 250.34 L569.05 250.32 L570.05 250.30 L571.05 250.28 L572.05 250.27 L573.05 250.25 L574.05 250.24 L575.04 250.22 L576.04 250.21 L577.04 250.20 L578.04 250.19 L579.04 250.18 L580.04 250.17 L581.04 250.16 L582.03 250.15 L583.03 250.15 L584.03 250.14 L585.03 250.14 L586.03 250.14 L587.03 250.14 L588.02 250.14 L589.02 250.14 L590.02 250.15 L591.02 250.15 L592.02 250.16 L593.02 250.17 L594.02 250.18 L595.02 250.20 L596.01 250.21 L597.01 250.23 L598.01 250.25 L599.01 250.27 L600.01 250.29 L601.01 250.32 L602.01 250.34 L603.01 250.37 L604.01 250.40 L605.01 250.44" fill="none" stroke="#d80000" stroke-width="1.3" stroke-linejoin="round" stroke-linecap="round"/>
<path d="M111.23 195.26 L111.46 196.14 L111.75 197.06 L112.09 198.01 L112.47 198.99 L112.91 199.99 L113.38 200.98 L113.90 201.98 L114.45 202.95 L115.04 203.90 L115.66 204.81 L116.32 205.68 L117.00 206.49 L117.71 207.23 L118.44 207.89 L119.20 208.46 L119.97 208.94 L120.76 209.31 L121.56 209.56 L122.37 209.68 L123.20 209.66 L124.02 209.50 L124.86 209.21 L125.70 208.81 L126.54 208.31 L127.39 207.74 L128.24 207.10 L129.10 206.42 L129.95 205.70 L130.81 204.97 L131.67 204.24 L132.52 203.53 L133.37 202.85 L134.23 202.23 L135.08 201.67 L135.92 201.19 L136.76 200.81 L137.59 200.53 L138.42 200.36 L139.23 200.29 L140.02 200.33 L140.79 200.47 L141.54 200.71 L142.26 201.07 L142.94 201.53 L143.60 202.11 L144.22 202.78 L144.82 203.53 L145.39 204.34 L145.93 205.20 L146.46 206.10 L146.96 207.00 L147.46 207.91 L147.94 208.81 L148.42 209.71 L148.88 210.60 L149.34 211.49 L149.80 212.37 L150.25 213.26 L150.70 214.14 L151.15 215.02 L151.60 215.90 L152.05 216.78 L152.51 217.66 L152.97 218.54 L153.45 219.43 L153.93 220.31 L154.42 221.20 L154.92 222.09 L155.43 222.98 L155.96 223.86 L156.49 224.74 L157.03 225.62 L157.59 226.50 L158.15 227.37 L158.73 228.24 L159.32 229.09 L159.92 229.94 L160.53 230.78 L161.15 231.61 L161.78 232.43 L162.42 233.24 L163.08 234.03 L163.74 234.82 L164.42 235.58 L165.11 236.33 L165.81 237.07 L166.53 237.78 L167.25 238.48 L167.99 239.16 L168.74 239.82 L169.50 240.46 L170.28 241.07 L171.07 241.66 L171.87 242.23 L172.68 242.77 L173.51 243.29 L174.35 243.78 L175.20 244.25 L176.06 244.69 L176.93 245.12 L177.81 245.52 L178.70 245.91 L179.61 246.27 L180.51 246.62 L181.43 246.96 L182.36 247.27 L183.29 247.57 L184.23 247.86 L185.18 248.14 L186.13 248.40 L187.09 248.66 L188.05 248.90 L189.01 249.14 L189.98 249.36 L190.96 249.58 L191.93 249.80 L192.91 250.01 L193.89 250.22 L194.87 250.42 L195.85 250.62 L196.84 250.82 L197.82 251.02 L198.80 251.22 L199.78 251.42 L200.77 251.62 L201.75 251.81 L202.73 252.01 L203.72 252.20 L204.70 252.40 L205.69 252.59 L206.67 252.78 L207.65 252.97 L208.64 253.16 L209.62 253.35 L210.61 253.54 L211.59 253.72 L212.58 253.91 L213.56 254.09 L214.55 254.27 L215.53 254.45 L216.52 254.62 L217.51 254.80 L218.49 254.97 L219.48 255.14 L220.46 255.31 L221.45 255.48 L222.44 255.64 L223.43 255.80 L224.41 255.96 L225.40 256.12 L226.39 256.28 L227.38 256.43 L228.36 256.58 L229.35 256.72 L230.34 256.87 L231.33 257.01 L232.32 257.15 L233.31 257.28 L234.30 257.42 L235.29 257.54 L236.28 257.67 L237.27 257.79 L238.26 257.91 L239.25 258.03 L240.24 258.14 L241.23 258.25 L242.22 258.35 L243.21 258.46 L244.21 258.55 L245.20 258.65 L246.19 258.74 L247.18 258.82 L248.18 258.91 L249.17 258.98 L250.16 259.06 L251.16 259.13 L252.15 259.19 L253.15 259.26 L254.14 259.31 L255.14 259.36 L256.13 259.41 L257.13 259.46 L258.12 259.49 L259.12 259.53 L260.11 259.56 L261.11 259.58 L262.11 259.60 L263.11 259.61 L264.10 259.62 L265.10 259.63 L266.10 259.63 L267.10 259.63 L268.10 259.62 L269.09 259.61 L270.09 259.60 L271.09 259.58 L272.09 259.56 L273.09 259.54 L274.09 259.52 L275.09 259.50 L276.09 259.47 L277.09 259.44 L278.09 259.41 L279.09 259.38 L280.09 259.35 L281.09 259.32 L282.09 259.29 L283.09 259.25 L284.09 259.22 L285.09 259.19 L286.09 259.16 L287.09 259.13 L288.09 259.10 L289.09 259.08 L290.09 259.05 L291.09 259.03 L292.09 259.01 L293.09 258.99 L294.09 258.97 L295.09 258.95 L296.09 258.94 L297.09 258.93 L298.09 258.93 L299.09 258.92 L300.08 258.92 L301.08 258.93 L302.08 258.94 L303.08 258.95 L304.07 258.97 L305.07 258.99 L306.07 259.01 L307.06 259.04 L308.06 259.08 L309.06 259.11 L310.05 259.16 L311.05 259.21 L312.04 259.27 L313.04 259.33 L314.03 259.39 L315.02 259.47 L316.01 259.55 L317.01 259.63 L318.00 259.73 L318.99 259.83 L319.98 259.93 L320.97 260.05 L321.96 260.17 L322.95 260.29 L323.94 260.43 L324.93 260.56 L325.91 260.71 L326.90 260.85 L327.89 261.00 L328.88 261.16 L329.86 261.32 L330.85 261.48 L331.83 261.65 L332.82 261.82 L333.81 261.99 L334.79 262.16 L335.78 262.33 L336.76 262.51 L337.75 262.69 L338.73 262.86 L339.72 263.04 L340.71 263.22 L341.69 263.40 L342.68 263.57 L343.66 263.75 L344.65 263.92 L345.64 264.10 L346.62 264.27 L347.61 264.44 L348.60 264.60 L349.58 264.76 L350.57 264.92 L351.56 265.08 L352.55 265.23 L353.53 265.38 L354.52 265.52 L355.51 265.66 L356.50 265.79 L357.49 265.91 L358.49 266.04 L359.48 266.15 L360.47 266.27 L361.46 266.38 L362.45 266.48 L363.45 266.58 L364.44 266.68 L365.43 266.77 L366.43 266.86 L367.42 266.95 L368.42 267.03 L369.41 267.11 L370.40 267.19 L371.40 267.27 L372.40 267.34 L373.39 267.41 L374.39 267.48 L375.38 267.55 L376.38 267.62 L377.38 267.68 L378.37 267.75 L379.37 267.81 L380.37 267.87 L381.36 267.93 L382.36 267.99 L383.36 268.05 L384.35 268.11 L385.35 268.17 L386.35 268.23 L387.34 268.29 L388.34 268.35 L389.34 268.41 L390.33 268.47 L391.33 268.53 L392.33 268.59 L393.33 268.65 L394.32 268.71 L395.32 268.77 L396.32 268.83 L397.31 268.89 L398.31 268.95 L399.31 269.01 L400.31 269.06 L401.30 269.12 L402.30 269.18 L403.30 269.24 L404.30 269.30 L405.29 269.36 L406.29 269.42 L407.29 269.48 L408.29 269.54 L409.28 269.60 L410.28 269.65 L411.28 269.71 L412.28 269.77 L413.27 269.83 L414.27 269.89 L415.27 269.95 L416.27 270.00 L417.26 270.06 L418.26 270.12 L419.26 270.17 L420.26 270.23 L421.25 270.29 L422.25 270.34 L423.25 270.40 L424.25 270.46 L425.24 270.51 L426.24 270.57 L427.24 270.62 L428.24 270.68 L429.24 270.73 L430.23 270.79 L431.23 270.84 L432.23 270.90 L433.23 270.95 L434.22 271.00 L435.22 271.06 L436.22 271.11 L437.22 271.16 L438.22 271.21 L439.21 271.26 L440.21 271.32 L441.21 271.37 L442.21 271.42 L443.21 271.47 L444.20 271.52 L445.20 271.57 L446.20 271.62 L447.20 271.66 L448.20 271.71 L449.19 271.76 L450.19 271.81 L451.19 271.85 L452.19 271.90 L453.19 271.95 L454.18 271.99 L455.18 272.04 L456.18 272.08 L457.18 272.13 L458.18 272.17 L459.17 272.22 L460.17 272.26 L461.17 272.30 L462.17 272.34 L463.17 272.38 L464.16 272.43 L465.16 272.47 L466.16 272.51 L467.16 272.55 L468.16 272.59 L469.16 272.63 L470.15 272.66 L471.15 272.70 L472.15 272.74 L473.15 272.78 L474.15 272.81 L475.15 272.85 L476.14 272.89 L477.14 272.92 L478.14 272.96 L479.14 272.99 L480.14 273.02 L481.14 273.06 L482.13 273.09 L483.13 273.12 L484.13 273.16 L485.13 273.19 L486.13 273.22 L487.13 273.25 L488.12 273.28 L489.12 273.31 L490.12 273.34 L491.12 273.37 L492.12 273.40 L493.12 273.43 L494.12 273.45 L495.11 273.48 L496.11 273.51 L497.11 273.53 L498.11 273.56 L499.11 273.59 L500.11 273.61 L501.10 273.64 L502.10 273.66 L503.10 273.68 L504.10 273.71 L505.10 273.73 L506.10 273.75 L507.10 273.77 L508.09 273.80 L509.09 273.82 L510.09 273.84 L511.09 273.86 L512.09 273.88 L513.09 273.90 L514.09 273.92 L515.09 273.94 L516.08 273.95 L517.08 273.97 L518.08 273.99 L519.08 274.01 L520.08 274.02 L521.08 274.04 L522.08 274.05 L523.08 274.07 L524.07 274.08 L525.07 274.10 L526.07 274.11 L527.07 274.13 L528.07 274.14 L529.07 274.15 L530.07 274.16 L531.07 274.18 L532.06 274.19 L533.06 274.20 L534.06 274.21 L535.06 274.22 L536.06 274.23 L537.06 274.24 L538.06 274.25 L539.06 274.25 L540.06 274.26 L541.05 274.27 L542.05 274.28 L543.05 274.28 L544.05 274.29 L545.05 274.30 L546.05 274.30 L547.05 274.31 L548.05 274.31 L549.05 274.32 L550.05 274.32 L551.04 274.32 L552.04 274.33 L553.04 274.33 L554.04 274.33 L555.04 274.33 L556.04 274.33 L557.04 274.33 L558.04 274.33 L559.04 274.33 L560.04 274.33 L561.04 274.33 L562.03 274.33 L563.03 274.33 L564.03 274.33 L565.03 274.33 L566.03 274.32 L567.03 274.32 L568.03 274.32 L569.03 274.31 L570.03 274.31 L571.03 274.30 L572.03 274.30 L573.03 274.29 L574.02 274.29 L575.02 274.28 L576.02 274.27 L577.02 274.26 L578.02 274.26 L579.02 274.25 L580.02 274.24 L581.02 274.23 L582.02 274.22 L583.02 274.21 L584.02 274.20 L585.02 274.19 L586.02 274.18 L587.02 274.17 L588.02 274.16 L589.01 274.14 L590.01 274.13 L591.01 274.12 L592.01 274.11 L593.01 274.09 L594.01 274.08 L595.01 274.06 L596.01 274.05 L597.01 274.03 L598.01 274.02 L599.01 274.00 L600.01 273.98 L601.01 273.97 L602.01 273.95 L603.01 273.93 L604.01 273.91 L605.01 273.89" fill="none" stroke="#0c0c58" stroke-width="1.3" stroke-linejoin="round" stroke-linecap="round"/>
<path d="M111.09 146.93 L111.29 147.54 L111.53 148.27 L111.80 149.11 L112.12 150.04 L112.48 151.03 L112.87 152.08 L113.29 153.16 L113.73 154.25 L114.21 155.34 L114.71 156.41 L115.23 157.44 L115.78 158.41 L116.34 159.31 L116.91 160.11 L117.50 160.80 L118.10 161.36 L118.70 161.77 L119.31 162.01 L119.92 162.07 L120.54 161.94 L121.15 161.64 L121.76 161.19 L122.36 160.60 L122.94 159.89 L123.52 159.08 L124.08 158.18 L124.62 157.21 L125.14 156.19 L125.64 155.13 L126.11 154.05 L126.56 152.97 L126.97 151.90 L127.34 150.87 L127.69 149.87 L128.00 148.91 L128.29 147.97 L128.56 147.05 L128.82 146.15 L129.07 145.26 L129.31 144.36 L129.56 143.47 L129.80 142.57 L130.04 141.66 L130.29 140.74 L130.53 139.81 L130.77 138.88 L131.02 137.93 L131.26 136.96 L131.51 135.98 L131.75 134.99 L132.00 133.97 L132.24 132.94 L132.50 131.90 L132.77 130.85 L133.05 129.81 L133.36 128.79 L133.71 127.78 L134.08 126.81 L134.51 125.88 L134.98 124.99 L135.51 124.16 L136.09 123.40 L136.73 122.75 L137.40 122.25 L138.10 121.94 L138.82 121.88 L139.53 122.04 L140.23 122.40 L140.89 122.93 L141.49 123.58 L142.02 124.34 L142.47 125.17 L142.84 126.06 L143.16 127.00 L143.43 127.97 L143.67 128.97 L143.89 129.98 L144.11 130.99 L144.32 132.00 L144.54 133.01 L144.75 134.02 L144.97 135.02 L145.18 136.03 L145.39 137.03 L145.60 138.03 L145.82 139.03 L146.03 140.03 L146.24 141.03 L146.45 142.02 L146.66 143.02 L146.87 144.01 L147.08 145.00 L147.29 145.99 L147.50 146.98 L147.71 147.97 L147.92 148.96 L148.13 149.94 L148.34 150.93 L148.55 151.91 L148.76 152.89 L148.97 153.87 L149.18 154.85 L149.40 155.83 L149.61 156.81 L149.82 157.79 L150.04 158.76 L150.25 159.74 L150.47 160.71 L150.69 161.69 L150.90 162.66 L151.12 163.63 L151.34 164.60 L151.56 165.57 L151.79 166.54 L152.01 167.50 L152.24 168.47 L152.46 169.44 L152.69 170.40 L152.92 171.37 L153.15 172.33 L153.38 173.29 L153.62 174.26 L153.85 175.22 L154.09 176.18 L154.33 177.14 L154.57 178.10 L154.81 179.06 L155.06 180.02 L155.30 180.98 L155.55 181.93 L155.81 182.89 L156.06 183.85 L156.32 184.80 L156.57 185.76 L156.83 186.72 L157.10 187.67 L157.36 188.63 L157.63 189.58 L157.90 190.53 L158.18 191.49 L158.45 192.44 L158.73 193.40 L159.02 194.35 L159.30 195.30 L159.59 196.25 L159.88 197.21 L160.17 198.16 L160.47 199.11 L160.77 200.06 L161.08 201.01 L161.39 201.97 L161.70 202.92 L162.01 203.87 L162.33 204.82 L162.65 205.77 L162.98 206.73 L163.31 207.68 L163.64 208.63 L163.98 209.58 L164.32 210.53 L164.66 211.49 L165.01 212.44 L165.36 213.39 L165.72 214.34 L166.08 215.30 L166.45 216.25 L166.81 217.20 L167.19 218.16 L167.57 219.11 L167.95 220.07 L168.34 221.02 L168.73 221.97 L169.13 222.93 L169.54 223.87 L169.95 224.81 L170.38 225.75 L170.82 226.67 L171.27 227.59 L171.73 228.49 L172.21 229.38 L172.70 230.25 L173.21 231.11 L173.74 231.94 L174.29 232.76 L174.85 233.55 L175.44 234.33 L176.05 235.07 L176.68 235.79 L177.34 236.49 L178.03 237.15 L178.74 237.78 L179.47 238.38 L180.24 238.94 L181.04 239.47 L181.87 239.96 L182.73 240.41 L183.62 240.82 L184.54 241.19 L185.48 241.51 L186.45 241.79 L187.42 242.02 L188.41 242.21 L189.41 242.35 L190.41 242.43 L191.41 242.47 L192.41 242.45 L193.41 242.38 L194.39 242.26 L195.36 242.08 L196.31 241.84 L197.25 241.56 L198.18 241.23 L199.10 240.85 L200.00 240.44 L200.90 239.99 L201.79 239.52 L202.66 239.01 L203.54 238.48 L204.40 237.93 L205.27 237.37 L206.13 236.79 L206.98 236.21 L207.84 235.62 L208.69 235.03 L209.54 234.44 L210.40 233.87 L211.26 233.30 L212.12 232.75 L212.99 232.21 L213.86 231.70 L214.74 231.22 L215.62 230.77 L216.51 230.35 L217.42 229.96 L218.33 229.62 L219.25 229.32 L220.18 229.05 L221.12 228.82 L222.07 228.62 L223.03 228.46 L223.99 228.33 L224.96 228.23 L225.93 228.17 L226.92 228.13 L227.90 228.12 L228.90 228.14 L229.89 228.19 L230.90 228.26 L231.90 228.36 L232.91 228.48 L233.92 228.63 L234.94 228.78 L235.95 228.94 L236.96 229.10 L237.97 229.24 L238.98 229.36 L239.97 229.45 L240.96 229.49 L241.94 229.49 L242.90 229.43 L243.86 229.30 L244.79 229.10 L245.71 228.82 L246.62 228.48 L247.51 228.08 L248.39 227.63 L249.25 227.12 L250.10 226.57 L250.93 225.99 L251.75 225.36 L252.55 224.72 L253.34 224.04 L254.12 223.35 L254.88 222.65 L255.62 221.95 L256.36 221.23 L257.08 220.51 L257.79 219.79 L258.49 219.06 L259.18 218.33 L259.87 217.60 L260.54 216.86 L261.21 216.12 L261.88 215.38 L262.54 214.64 L263.19 213.89 L263.85 213.15 L264.50 212.40 L265.15 211.66 L265.80 210.92 L266.45 210.18 L267.11 209.44 L267.77 208.70 L268.43 207.97 L269.10 207.25 L269.77 206.53 L270.46 205.83 L271.15 205.13 L271.86 204.46 L272.57 203.79 L273.30 203.15 L274.05 202.52 L274.81 201.92 L275.59 201.34 L276.38 200.78 L277.20 200.26 L278.04 199.76 L278.90 199.29 L279.78 198.85 L280.69 198.45 L281.62 198.09 L282.58 197.76 L283.55 197.47 L284.55 197.21 L285.56 196.99 L286.57 196.80 L287.60 196.65 L288.64 196.54 L289.68 196.46 L290.72 196.41 L291.76 196.41 L292.79 196.43 L293.82 196.50 L294.84 196.60 L295.85 196.73 L296.84 196.90 L297.82 197.10 L298.78 197.34 L299.72 197.61 L300.66 197.92 L301.57 198.25 L302.48 198.61 L303.36 199.00 L304.24 199.42 L305.10 199.87 L305.95 200.34 L306.79 200.84 L307.61 201.36 L308.42 201.90 L309.22 202.46 L310.01 203.05 L310.78 203.65 L311.55 204.28 L312.30 204.92 L313.04 205.58 L313.77 206.25 L314.50 206.94 L315.21 207.64 L315.91 208.35 L316.61 209.08 L317.29 209.81 L317.97 210.56 L318.63 211.31 L319.29 212.08 L319.95 212.85 L320.59 213.62 L321.23 214.40 L321.86 215.18 L322.48 215.97 L323.10 216.76 L323.71 217.55 L324.32 218.34 L324.92 219.14 L325.51 219.94 L326.10 220.75 L326.69 221.55 L327.27 222.36 L327.85 223.17 L328.43 223.98 L329.00 224.80 L329.57 225.61 L330.14 226.43 L330.71 227.25 L331.28 228.07 L331.84 228.89 L332.41 229.71 L332.97 230.53 L333.54 231.35 L334.10 232.17 L334.67 232.99 L335.23 233.81 L335.80 234.63 L336.37 235.45 L336.95 236.27 L337.52 237.09 L338.10 237.91 L338.68 238.73 L339.26 239.54 L339.85 240.36 L340.45 241.17 L341.04 241.98 L341.65 242.79 L342.25 243.59 L342.87 244.39 L343.49 245.19 L344.12 245.98 L344.75 246.77 L345.39 247.55 L346.04 248.32 L346.70 249.08 L347.37 249.83 L348.05 250.57 L348.73 251.31 L349.43 252.02 L350.14 252.73 L350.86 253.42 L351.59 254.10 L352.34 254.76 L353.09 255.41 L353.86 256.04 L354.65 256.65 L355.44 257.24 L356.25 257.81 L357.08 258.36 L357.92 258.89 L358.77 259.41 L359.64 259.90 L360.51 260.38 L361.40 260.83 L362.30 261.28 L363.20 261.70 L364.12 262.11 L365.04 262.50 L365.97 262.87 L366.90 263.23 L367.84 263.58 L368.79 263.91 L369.73 264.23 L370.68 264.53 L371.64 264.82 L372.59 265.10 L373.55 265.37 L374.51 265.62 L375.48 265.86 L376.44 266.09 L377.41 266.31 L378.38 266.52 L379.35 266.72 L380.33 266.91 L381.31 267.08 L382.28 267.25 L383.26 267.41 L384.24 267.57 L385.23 267.71 L386.21 267.84 L387.20 267.97 L388.19 268.09 L389.18 268.20 L390.17 268.31 L391.16 268.41 L392.15 268.51 L393.15 268.59 L394.14 268.68 L395.14 268.76 L396.13 268.83 L397.13 268.90 L398.13 268.97 L399.13 269.03 L400.13 269.09 L401.13 269.14 L402.13 269.20 L403.13 269.25 L404.14 269.30 L405.14 269.35 L406.14 269.39 L407.14 269.44 L408.14 269.49 L409.15 269.53 L410.15 269.58 L411.15 269.62 L412.15 269.67 L413.15 269.72 L414.16 269.76 L415.16 269.81 L416.16 269.86 L417.16 269.91 L418.16 269.96 L419.16 270.01 L420.16 270.06 L421.16 270.11 L422.16 270.16 L423.16 270.21 L424.16 270.26 L425.16 270.31 L426.17 270.36 L427.17 270.41 L428.17 270.46 L429.16 270.51 L430.16 270.57 L431.16 270.62 L432.16 270.67 L433.16 270.72 L434.16 270.77 L435.16 270.83 L436.16 270.88 L437.16 270.93 L438.16 270.99 L439.16 271.04 L440.16 271.09 L441.16 271.15 L442.15 271.20 L443.15 271.25 L444.15 271.30 L445.15 271.36 L446.15 271.41 L447.15 271.46 L448.14 271.52 L449.14 271.57 L450.14 271.62 L451.14 271.67 L452.14 271.73 L453.14 271.78 L454.13 271.83 L455.13 271.88 L456.13 271.93 L457.13 271.99 L458.12 272.04 L459.12 272.09 L460.12 272.14 L461.12 272.19 L462.12 272.24 L463.11 272.29 L464.11 272.34 L465.11 272.39 L466.11 272.44 L467.10 272.49 L468.10 272.53 L469.10 272.58 L470.10 272.63 L471.09 272.68 L472.09 272.72 L473.09 272.77 L474.09 272.82 L475.08 272.86 L476.08 272.91 L477.08 272.95 L478.08 272.99 L479.07 273.04 L480.07 273.08 L481.07 273.12 L482.07 273.16 L483.06 273.20 L484.06 273.24 L485.06 273.28 L486.06 273.32 L487.05 273.36 L488.05 273.40 L489.05 273.44 L490.05 273.47 L491.05 273.51 L492.04 273.54 L493.04 273.58 L494.04 273.61 L495.04 273.65 L496.03 273.68 L497.03 273.71 L498.03 273.74 L499.03 273.77 L500.03 273.80 L501.03 273.83 L502.02 273.85 L503.02 273.88 L504.02 273.91 L505.02 273.93 L506.02 273.95 L507.02 273.98 L508.02 274.00 L509.02 274.02 L510.01 274.04 L511.01 274.06 L512.01 274.08 L513.01 274.09 L514.01 274.11 L515.01 274.12 L516.01 274.14 L517.01 274.15 L518.01 274.16 L519.01 274.17 L520.01 274.19 L521.01 274.20 L522.01 274.20 L523.01 274.21 L524.01 274.22 L525.01 274.23 L526.01 274.23 L527.01 274.24 L528.01 274.24 L529.01 274.25 L530.01 274.25 L531.01 274.26 L532.01 274.26 L533.01 274.26 L534.01 274.26 L535.01 274.26 L536.01 274.26 L537.01 274.26 L538.01 274.26 L539.01 274.26 L540.01 274.26 L541.01 274.26 L542.01 274.26 L543.01 274.25 L544.02 274.25 L545.02 274.25 L546.02 274.24 L547.02 274.24 L548.02 274.24 L549.02 274.23 L550.02 274.23 L551.02 274.22 L552.02 274.22 L553.02 274.21 L554.02 274.21 L555.02 274.20 L556.02 274.20 L557.02 274.19 L558.02 274.18 L559.02 274.18 L560.02 274.17 L561.02 274.17 L562.02 274.16 L563.03 274.15 L564.03 274.15 L565.03 274.14 L566.03 274.14 L567.03 274.13 L568.03 274.13 L569.03 274.12 L570.03 274.12 L571.03 274.11 L572.03 274.11 L573.03 274.10 L574.03 274.10 L575.03 274.09 L576.03 274.09 L577.03 274.08 L578.03 274.08 L579.02 274.08 L580.02 274.08 L581.02 274.07 L582.02 274.07 L583.02 274.07 L584.02 274.07 L585.02 274.07 L586.02 274.07 L587.02 274.07 L588.02 274.07 L589.02 274.07 L590.01 274.07 L591.01 274.08 L592.01 274.08 L593.01 274.08 L594.01 274.09 L595.01 274.09 L596.00 274.10 L597.00 274.10 L598.00 274.11 L599.00 274.12 L599.99 274.13 L600.99 274.14 L601.99 274.14 L602.99 274.16 L603.98 274.17 L604.98 274.18" fill="none" stroke="#000000" stroke-width="1.3" stroke-linejoin="round" stroke-linecap="round"/>
<path d="M52 311 L52 314.50 M41.6 311.00 L51.60 311.00 M41.6 254.70 L51.60 254.70 M41.6 198.40 L51.60 198.40 M41.6 142.10 L51.60 142.10 M41.6 85.80 L51.60 85.80 M41.6 29.50 L51.60 29.50 M46.4 282.85 L51.60 282.85 M46.4 226.55 L51.60 226.55 M46.4 170.25 L51.60 170.25 M46.4 113.95 L51.60 113.95 M46.4 57.65 L51.60 57.65 M46.4 1.35 L51.60 1.35 M94.16 311.00 L94.16 317.6 M179.28 311.00 L179.28 317.6 M264.40 311.00 L264.40 317.6 M349.52 311.00 L349.52 317.6 M434.64 311.00 L434.64 317.6 M519.76 311.00 L519.76 317.6 M604.88 311.00 L604.88 317.6 M136.72 311.00 L136.72 314.5 M221.84 311.00 L221.84 314.5 M306.96 311.00 L306.96 314.5 M392.08 311.00 L392.08 314.5 M477.20 311.00 L477.20 314.5 M562.32 311.00 L562.32 314.5 M647.44 311.00 L647.44 314.5" fill="none" stroke="#000" stroke-width="1.6"/>
<path d="M52 1.3 L52 312 M41.8 311 L647.6 311" fill="none" stroke="#000" stroke-width="1.75"/>
<text x="38.9" y="259.00" font-size="16" font-family="Liberation Sans, sans-serif" text-anchor="end">0</text>
<text x="38.9" y="146.40" font-size="16" font-family="Liberation Sans, sans-serif" text-anchor="end">2</text>
<text x="38.9" y="90.10" font-size="16" font-family="Liberation Sans, sans-serif" text-anchor="end">3</text>
<text x="38.9" y="33.80" font-size="16" font-family="Liberation Sans, sans-serif" text-anchor="end">4</text>
<path d="M34.5 190.80 L36.1 190.80 L36.1 202.70 L34.5 202.70 Z M31 193.20 L34.6 190.80 L35.0 192.60 L31.2 194.40 Z" fill="#000"/>
<path d="M34.5 303.40 L36.1 303.40 L36.1 315.30 L34.5 315.30 Z M31 305.80 L34.6 303.40 L35.0 305.20 L31.2 307.00 Z" fill="#000"/>
<path d="M20 310.30 L29.8 310.30" stroke="#000" stroke-width="1.5"/>
<text x="94.00" y="336.6" font-size="16" font-family="Liberation Sans, sans-serif" text-anchor="middle">200</text>
<text x="180.00" y="336.6" font-size="16" font-family="Liberation Sans, sans-serif" text-anchor="middle">300</text>
<text x="265.30" y="336.6" font-size="16" font-family="Liberation Sans, sans-serif" text-anchor="middle">400</text>
<text x="351.80" y="336.6" font-size="16" font-family="Liberation Sans, sans-serif" text-anchor="middle">500</text>
<text x="433.00" y="336.6" font-size="16" font-family="Liberation Sans, sans-serif" text-anchor="middle">600</text>
<text x="518.30" y="336.6" font-size="16" font-family="Liberation Sans, sans-serif" text-anchor="middle">700</text>
<text x="605.10" y="336.6" font-size="16" font-family="Liberation Sans, sans-serif" text-anchor="middle">800</text>
<text x="357" y="361.4" font-size="16" font-family="Liberation Sans, sans-serif" text-anchor="middle" letter-spacing="0.33">Wavelength (nm)</text>
<text transform="translate(13.0 146.5) rotate(-90)" x="0" y="0" font-size="16" font-family="Liberation Sans, sans-serif" text-anchor="middle" letter-spacing="0.3">Absorbance</text>
<rect x="443" y="91.1" width="105" height="119.5" fill="#fff" stroke="#000" stroke-width="1.4"/>
<path d="M451 101.70 L509.6 101.70" stroke="#000000" stroke-width="1.35"/>
<text x="515.5" y="108.10" font-size="16" font-family="Liberation Sans, sans-serif">6a</text>
<path d="M451 121.65 L509.6 121.65" stroke="#d80000" stroke-width="1.35"/>
<text x="515.5" y="128.05" font-size="16" font-family="Liberation Sans, sans-serif">6b</text>
<path d="M451 141.60 L509.6 141.60" stroke="#0000e0" stroke-width="1.35"/>
<text x="515.5" y="148.00" font-size="16" font-family="Liberation Sans, sans-serif">6c</text>
<path d="M451 161.55 L509.6 161.55" stroke="#e000e0" stroke-width="1.35"/>
<text x="515.5" y="167.95" font-size="16" font-family="Liberation Sans, sans-serif">6d</text>
<path d="M451 181.50 L509.6 181.50" stroke="#006000" stroke-width="1.35"/>
<text x="515.5" y="187.90" font-size="16" font-family="Liberation Sans, sans-serif">6e</text>
<path d="M451 201.45 L509.6 201.45" stroke="#0c0c58" stroke-width="1.35"/>
<text x="515.5" y="207.85" font-size="16" font-family="Liberation Sans, sans-serif">6f</text>
</svg>
</body></html>
